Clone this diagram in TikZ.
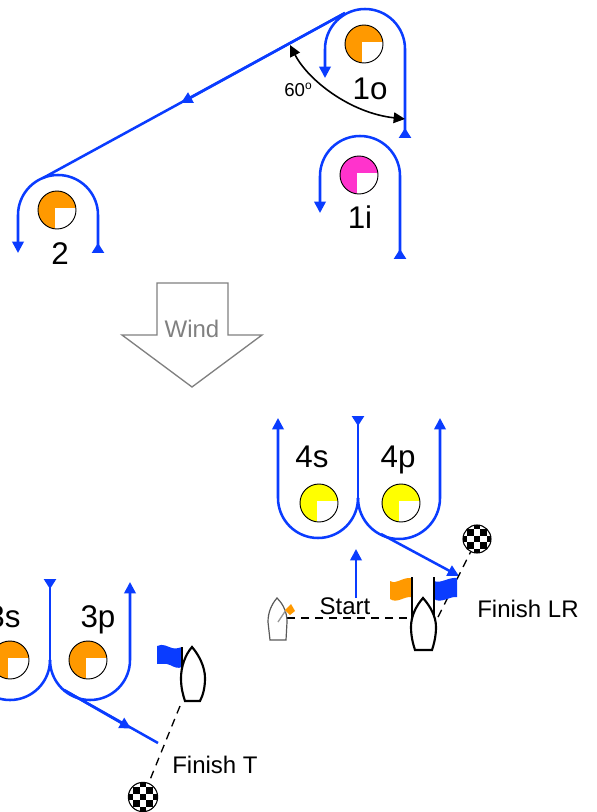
\documentclass[tikz,border=0pt]{standalone}
\usepackage{fontspec}
\setmainfont{Liberation Sans}
\usetikzlibrary{arrows.meta}
\definecolor{course}{RGB}{10,60,255}
\definecolor{markorange}{RGB}{255,153,0}
\definecolor{markpink}{RGB}{255,51,204}
\definecolor{markyellow}{RGB}{255,255,0}
\definecolor{windgray}{RGB}{128,128,128}
\tikzset{
	leg/.style={draw=course, line width=1.9pt},
	legin/.style={leg, {Triangle[reversed,width=9pt,length=7.5pt]}-},
	legout/.style={leg, -{Triangle[width=8.5pt,length=8.5pt]}},
	leginout/.style={leg, {Triangle[reversed,width=9pt,length=7.5pt]}-{Triangle[width=8.5pt,length=8.5pt]}},
	roundmark/.style={circle, draw=black, line width=0.7pt, fill=#1, minimum size=28.5pt, inner sep=0pt,
		path picture={\fill[white, shift={(path picture bounding box.center)}] (-1.5pt,1.5pt) rectangle (20pt,-20pt);}},
	finishmark/.style={circle, draw=black, line width=0.8pt, fill=white, minimum size=#1, inner sep=0pt,
		path picture={\foreach \i in {-2,0,2} {\foreach \j in {-2,0,2} {
			\fill[black, shift={(path picture bounding box.center)}] (\i*5pt-2.5pt,\j*5pt-2.5pt) rectangle ++(5pt,5pt);
			\fill[black, shift={(path picture bounding box.center)}] (\i*5pt+2.5pt,\j*5pt+2.5pt) rectangle ++(5pt,5pt);}}}},
	markname/.style={font=\fontsize{23.5pt}{26pt}\selectfont, inner sep=0pt, anchor=base},
	note/.style={font=\fontsize{18pt}{21pt}\selectfont, inner sep=0pt, anchor=base},
	boat/.style={draw=black, line width=1.6pt, fill=white},
	pole/.style={draw=black, line width=1.3pt},
	line/.style={draw=black, line width=1pt, dash pattern=on 6pt off 4.5pt}
}
\begin{document}
\begin{tikzpicture}[x=0.75pt, y=-0.75pt]
		\useasboundingbox (0,0) rectangle (596,812);
		\clip (0,0) rectangle (596,812);
		% marks
		\node[roundmark=markorange] (M1o) at (364,44) {};
		\node[roundmark=markpink] (M1i) at (359,175) {};
		\node[roundmark=markorange] (M2) at (57,210) {};
		\node[roundmark=markyellow] (M4s) at (319,503) {};
		\node[roundmark=markyellow] (M4p) at (401,503) {};
		\node[roundmark=markorange] (M3s) at (10,660) {};
		\node[roundmark=markorange] (M3p) at (88,660) {};
		\node[markname] (L1o) at (370,100) {1o};
		\node[markname] (L1i) at (360,229) {1i};
		\node[markname] (L2) at (60,265) {2};
		\node[markname] (L4s) at (312,467) {4s};
		\node[markname] (L4p) at (398,467) {4p};
		\node[markname] (L3s) at (4,627) {3s};
		\node[markname] (L3p) at (98,627) {3p};

		% course legs
		\draw[leginout] (405,138) -- (405,49) arc[start angle=0, end angle=-180, radius=40] -- (325,78);
		\draw[leginout] (400,259) -- (400,176) arc[start angle=0, end angle=-180, radius=40] -- (320,213);
		\draw[leginout] (98,253) -- (98,215) arc[start angle=0, end angle=-180, radius=40] -- (18,253);
		\coordinate (T1) at (345,13);
		\coordinate (T2) at (43,178);
		\coordinate (T3) at (181,103);
		\draw[leg] (T1) -- (T2);
		\draw[legout] (T1) -- (T3);

		\draw[legin] (358,416) -- (358,498);
		\draw[legout] (358,498) arc[start angle=0, end angle=180, radius=40] -- (278,418);
		\draw[legout] (358,498) arc[start angle=180, end angle=0, radius=41] -- (440,418);
		\coordinate (F1) at (381,534);
		\coordinate (F2) at (459,576);
		\draw[legout] (F1) -- (F2);
		\draw[legout] (356,598) -- (356,549);

		\draw[legin] (50,579) -- (50,660);
		\draw[leg] (50,660) arc[start angle=0, end angle=180, radius=40] -- (-30,640);
		\draw[legout] (50,660) arc[start angle=180, end angle=0, radius=40] -- (130,582);
		\coordinate (G1) at (64,690);
		\coordinate (G2) at (158,743);
		\coordinate (G3) at (131,728.5);
		\draw[leg] (G1) -- (G2);
		\draw[legout] (G1) -- (G3);

		% wind
		\draw[draw=windgray, line width=1pt] (157,283) -- (228,283) -- (228,335) -- (262,335) -- (192,387) -- (122,335) -- (157,335) -- cycle;
		\node[note, text=windgray] (W) at (192,337) {Wind};

		% angle
		\coordinate (A1) at (290,45);
		\coordinate (A2) at (405,119);
		\draw[black, line width=1.2pt, {Triangle[width=8pt,length=8.5pt]}-{Triangle[width=8pt,length=8.5pt]}] (A1) .. controls (308,80) and (350,113) .. (A2);
		\node[font=\fontsize{14pt}{16pt}\selectfont, inner sep=0pt, anchor=base] (Ang) at (298,97) {60\raisebox{0.42em}{\fontsize{9pt}{10pt}\selectfont o}};

		% start line
		\coordinate (S1) at (287,618);
		\coordinate (S2) at (411,618);
		\draw[line] (S1) -- (S2);
		\node[note] (St) at (345,614) {Start};
		\draw[draw=black!65, fill=white, line width=0.9pt] (277,598) .. controls (271,605) and (268,613) .. (268,622) -- (270,640) -- (286,640) -- (287,622) .. controls (287,613) and (284,605) .. (277,598) -- cycle;
		\draw[draw=black!40, line width=1pt] (278,622) -- (286,610);
		\fill[markorange] (285,610) -- (291,604) -- (295,611) -- (290,615) -- cycle;

		% finish LR
		\node[finishmark=21pt] (C1) at (477,539) {};
		\coordinate (D1) at (438,617);
		\draw[line] (D1) -- (C1);
		\fill[markorange] (390,581) .. controls (397,585) and (401,577) .. (412,578) -- (412,597) .. controls (404,596) and (397,604) .. (390,599) -- cycle;
		\fill[course] (434,581) .. controls (441,584) and (448,577) .. (457,578) -- (457,597) .. controls (450,596) and (441,604) .. (434,599) -- cycle;
		\draw[pole] (412,577) -- (412,620);
		\draw[pole] (434,577) -- (434,620);
		\draw[boat] (423,598) .. controls (416,606) and (411,616) .. (411,627) .. controls (411,636) and (413,644) .. (415,650) -- (432,650) .. controls (434,644) and (436,636) .. (436,627) .. controls (436,616) and (430,606) .. (423,598) -- cycle;
		\node[note] (FL) at (528,617) {Finish LR};

		% finish T
		\node[finishmark=22pt] (C2) at (143,797) {};
		\coordinate (D2) at (180,706);
		\draw[line] (D2) -- (C2);
		\fill[course] (157,646) .. controls (163,643) and (168,647) .. (172,648) .. controls (175,649) and (179,648) .. (182,647) -- (182,667) .. controls (178,669) and (174,667) .. (170,665) .. controls (166,663) and (161,664) .. (157,664) -- cycle;
		\draw[pole] (182,647) -- (182,672);
		\draw[boat] (192,647) .. controls (185,655) and (181,667) .. (181,678) .. controls (181,688) and (183,695) .. (185,701) -- (200,701) .. controls (203,695) and (205,688) .. (205,678) .. controls (205,667) and (199,655) .. (192,647) -- cycle;
		\node[note] (FT) at (215,773) {Finish T};
\end{tikzpicture}
\end{document}
